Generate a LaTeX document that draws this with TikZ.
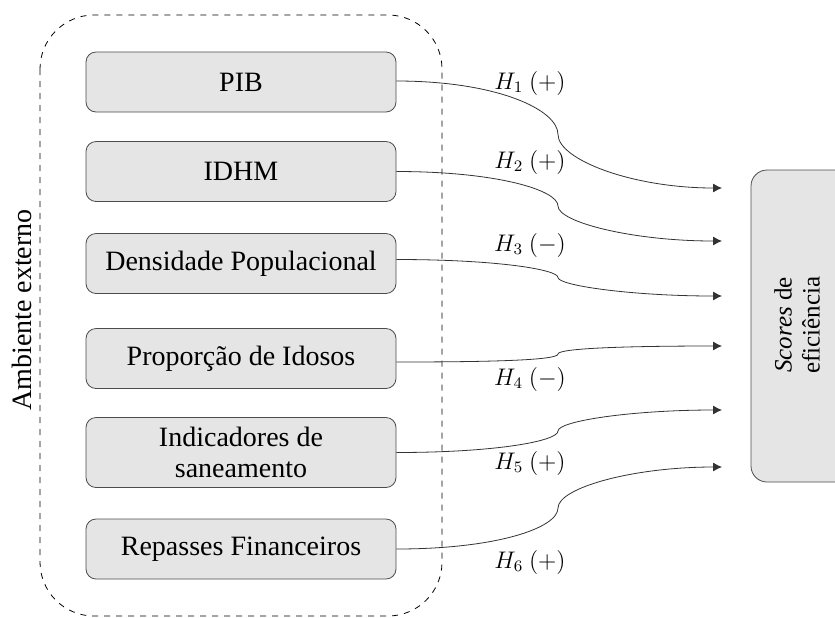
\documentclass[tikz,border=0pt]{standalone}
\usepackage{fontspec}
\setmainfont{Liberation Serif}
\usetikzlibrary{arrows.meta, positioning, calc}

\begin{document}
\begin{tikzpicture}[
    x=0.5pt, y=-0.5pt,
    fator/.style={draw=black!70, fill=black!10, rounded corners=5pt, minimum width=155pt, minimum height=30pt, align=center, font=\fontsize{14}{15.5}\selectfont, inner sep=2pt},
    hip/.style={-{Latex[length=4.5pt,width=4.5pt]}, draw=black!80, thin},
    lbl/.style={font=\fontsize{11.5}{13}\selectfont}
]
    \useasboundingbox (0,0) rectangle (835,617);
    \clip (0,0) rectangle (835,617);

    % Ambiente externo
    \draw[dashed, rounded corners=27pt] (40,15) rectangle (442,616);
    \node[rotate=90, font=\fontsize{14}{16}\selectfont] (amb) at (22,310) {Ambiente externo};

    % Fatores
    \node[fator] (pib) at (241,82) {PIB};
    \node[fator] (idhm) at (241,171.5) {IDHM};
    \node[fator] (dens) at (241,263.5) {Densidade Populacional};
    \node[fator] (idosos) at (241,358.5) {Proporção de Idosos};
    \node[fator, minimum height=35pt] (saneam) at (241,452.5) {Indicadores de\\saneamento};
    \node[fator] (repasses) at (241,549) {Repasses Financeiros};

    % Scores de eficiencia
    \draw[draw=black!70, fill=black!10, rounded corners=8pt] (751,170) rectangle (860,482);
    \node[rotate=90, align=center, font=\fontsize{12.5}{14}\selectfont] (scores) at (797,325) {\textit{Scores} de\\eficiência};

    % Pontas das setas
    \coordinate (e1) at (722,188);
    \coordinate (e2) at (722,241);
    \coordinate (e3) at (722,296);
    \coordinate (e4) at (722,346);
    \coordinate (e5) at (722,410);
    \coordinate (e6) at (722,467);

    % Pontos medios
    \coordinate (m1) at (558,134.5);
    \coordinate (m2) at (558,206);
    \coordinate (m3) at (558,277.5);
    \coordinate (m4) at (558,354);
    \coordinate (m5) at (558,431);
    \coordinate (m6) at (558,508);

    % Hipoteses
    \draw[hip] ($(pib.east)+(0,-1)$) .. controls +(100,0) and +(0,-25) .. (m1) .. controls +(0,25) and +(-90,0) .. (e1);
    \draw[hip] (idhm.east) .. controls +(100,0) and +(0,-16) .. (m2) .. controls +(0,16) and +(-90,0) .. (e2);
    \draw[hip] ($(dens.east)+(0,-4)$) .. controls +(100,0) and +(0,-8) .. (m3) .. controls +(0,8) and +(-90,0) .. (e3);
    \draw[hip] ($(idosos.east)+(0,3.5)$) .. controls +(100,0) and +(0,6) .. (m4) .. controls +(0,-6) and +(-90,0) .. (e4);
    \draw[hip] (saneam.east) .. controls +(100,0) and +(0,10) .. (m5) .. controls +(0,-10) and +(-90,0) .. (e5);
    \draw[hip] (repasses.east) .. controls +(100,0) and +(0,20) .. (m6) .. controls +(0,-20) and +(-90,0) .. (e6);

    % Rotulos
    \node[lbl] (h1) at (530,83) {$H_1\ (+)$};
    \node[lbl] (h2) at (530,162) {$H_2\ (+)$};
    \node[lbl] (h3) at (530,245) {$H_3\ (-)$};
    \node[lbl] (h4) at (530,379) {$H_4\ (-)$};
    \node[lbl] (h5) at (530,463) {$H_5\ (+)$};
    \node[lbl] (h6) at (530,562) {$H_6\ (+)$};
\end{tikzpicture}
\end{document}
